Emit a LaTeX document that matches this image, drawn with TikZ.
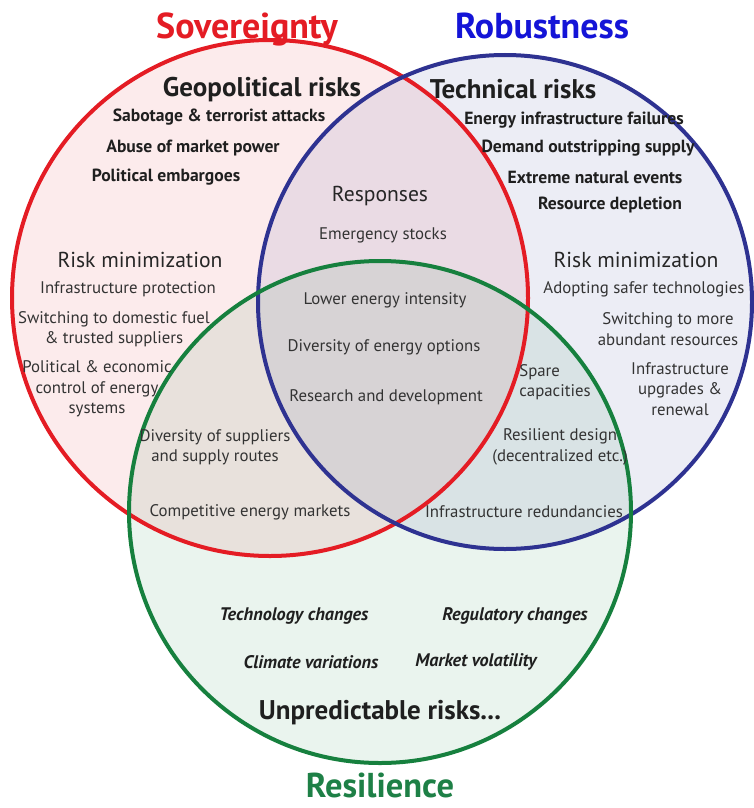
\documentclass[tikz,border=0pt]{standalone}
\usepackage{fontspec}
\setmainfont{PT Sans}
\begin{document}
\begin{tikzpicture}[x=1pt,y=-1pt,
  every node/.style={inner sep=0pt, text=black!88},
  ttl/.style={font=\fontsize{36}{40}\selectfont\bfseries, anchor=base},
  head/.style={font=\fontsize{27}{30}\selectfont\bfseries},
  risk/.style={font=\fontsize{17.6}{20}\selectfont\bfseries},
  sub/.style={font=\fontsize{21.6}{25}\selectfont, text=black!85},
  item/.style={font=\fontsize{16.8}{20.4}\selectfont, align=center, text=black!80},
  ital/.style={font=\fontsize{18.2}{20}\selectfont\bfseries\itshape},
  ring/.style={line width=4pt}]
\definecolor{sovred}{RGB}{228,28,36}
\definecolor{robblue}{RGB}{46,50,145}
\definecolor{resgreen}{RGB}{22,128,62}
\definecolor{ttlblue}{RGB}{20,20,215}
\definecolor{ttlgreen}{RGB}{30,128,70}
\useasboundingbox (0,0) rectangle (754,808);
\fill[white] (0,0) rectangle (754,808);

% light tinted disks
\begin{scope}[fill opacity=0.085]
  \fill[sovred] (270,298) circle[radius=258pt];
  \fill[robblue] (505,302) circle[radius=247pt];
  \fill[resgreen] (380,512) circle[radius=251pt];
\end{scope}
% outlines
\draw[ring, sovred] (270,298) circle[radius=258pt];
\draw[ring, robblue] (505,302) circle[radius=247pt];
\draw[ring, resgreen] (380,512) circle[radius=251pt];

% set titles
\node[ttl, text=sovred] (sov) at (247,38) {Sovereignty};
\node[ttl, text=ttlblue] (rob) at (542,38) {Robustness};
\node[ttl, text=ttlgreen, font=\fontsize{34.5}{38}\selectfont\bfseries] (res) at (380,797) {Resilience};

% sovereignty risks
\node[head] (geo) at (262,90) {Geopolitical risks};
\node[risk] (sab) at (219,117) {Sabotage \& terrorist attacks};
\node[risk] (abu) at (193,148) {Abuse of market power};
\node[risk] (emb) at (166,177) {Political embargoes};

% robustness risks
\node[head] (tech) at (513,89) {Technical risks};
\node[risk] (eif) at (574,120) {Energy infrastructure failures};
\node[risk] (dos) at (588,148) {Demand outstripping supply};
\node[risk] (ene) at (595,177) {Extreme natural events};
\node[risk] (rdp) at (610,205) {Resource depletion};

% responses
\node[sub] (resp) at (380,196) {Responses};
\node[item] (emst) at (383,235) {Emergency stocks};

% sovereignty risk minimization
\node[sub] (rmL) at (140,260) {Risk minimization};
\node[item] (infp) at (128,289) {Infrastructure protection};
\node[item] (swd) at (114,329) {Switching to domestic fuel\\\& trusted suppliers};
\node[item] (pec) at (97,389) {Political \& economic\\control of energy\\systems};

% robustness risk minimization
\node[sub] (rmR) at (636,260) {Risk minimization};
\node[item] (ast) at (644,289) {Adopting safer technologies};
\node[item] (swm) at (668,329) {Switching to more\\abundant resources};
\node[item] (iur) at (680,389) {Infrastructure\\upgrades \&\\renewal};

% centre
\node[item] (lei) at (385,300) {Lower energy intensity};
\node[item] (doe) at (384,347) {Diversity of energy options};
\node[item] (rad) at (386,397) {Research and development};

% pairwise overlaps with resilience
\node[item, align=left] (spc) at (555,382) {Spare\\capacities};
\node[item] (dsr) at (215,447) {Diversity of suppliers\\and supply routes};
\node[item] (rdz) at (560,447) {Resilient design\\(decentralized etc.)};
\node[item] (cem) at (250,512) {Competitive energy markets};
\node[item] (ird) at (524,512) {Infrastructure redundancies};

% unpredictable risks
\node[ital] (tch) at (294,616) {Technology changes};
\node[ital] (rgc) at (515,616) {Regulatory changes};
\node[ital] (clv) at (311,662) {Climate variations};
\node[ital] (mkv) at (476,662) {Market volatility};
\node[head] (unp) at (380,713) {Unpredictable risks...};
\end{tikzpicture}
\end{document}
